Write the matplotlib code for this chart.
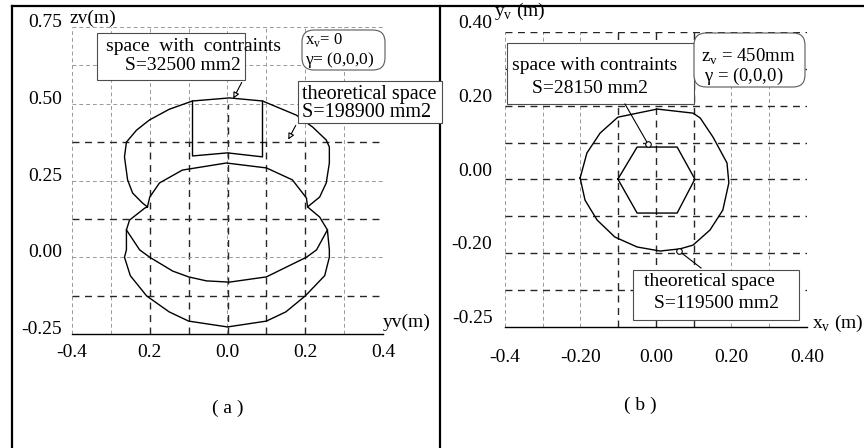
import matplotlib.pyplot as plt
from matplotlib.patches import Rectangle, FancyBboxPatch, FancyArrowPatch
from matplotlib.lines import Line2D
import numpy as np

plt.rcParams['font.family'] = ['Liberation Serif', 'DejaVu Serif']
plt.rcParams['mathtext.fontset'] = 'custom'
plt.rcParams['mathtext.rm'] = 'Liberation Serif'

# ---------------- panel (a): section x_v = 0 ----------------
a_xticks = [-0.4, -0.2, 0.0, 0.2, 0.4]
a_xticklabels = ['-0.4', '0.2', '0.0', '0.2', '0.4']
a_yticks = [0.75, 0.50, 0.25, 0.00, -0.25]
a_yticklabels = ['0.75', '0.50', '0.25', '0.00', '-0.25']

# outer contour of the theoretical space (y_v, z_v), starting at the left notch
a_outer_y = [-0.206, -0.219, -0.244, -0.257, -0.265, -0.260, -0.234, -0.201, -0.150, -0.090,
             0.005, 0.090, 0.177, 0.219, 0.254, 0.262, 0.262, 0.254, 0.237, 0.206,
             0.237, 0.257, 0.262, 0.262, 0.250, 0.200, 0.150, 0.100, 0.000,
             -0.100, -0.150, -0.208, -0.250, -0.265, -0.260, -0.260, -0.252, -0.213, -0.206]
a_outer_z = [0.164, 0.177, 0.209, 0.252, 0.327, 0.375, 0.414, 0.447, 0.482, 0.509,
             0.519, 0.509, 0.463, 0.424, 0.382, 0.359, 0.307, 0.242, 0.196, 0.164,
             0.131, 0.089, 0.024, 0.000, -0.060, -0.126, -0.178, -0.208, -0.227,
             -0.208, -0.178, -0.126, -0.060, 0.000, 0.024, 0.089, 0.121, 0.160, 0.164]

# inner upper arc between the two notches
a_inner_y = [-0.206, -0.200, -0.175, -0.116, -0.003, 0.100, 0.167, 0.203, 0.206]
a_inner_z = [0.164, 0.196, 0.242, 0.284, 0.307, 0.291, 0.252, 0.193, 0.164]

# lower inner arc of the lens
a_lens_y = [-0.260, -0.226, -0.200, -0.141, -0.100, -0.054, 0.005, 0.100, 0.203, 0.229, 0.257]
a_lens_z = [0.089, 0.024, 0.000, -0.045, -0.064, -0.077, -0.081, -0.064, 0.000, 0.024, 0.089]

# space with constraints (rectangle, top edge on the outer arc)
a_rect_y = [-0.090, -0.090, 0.000, 0.090, 0.090]
a_rect_z = [0.509, 0.330, 0.340, 0.327, 0.509]

# ---------------- panel (b): section z_v = 450 mm ----------------
b_xticks = [-0.4, -0.2, 0.0, 0.2, 0.4]
b_xticklabels = ['-0.4', '-0.20', '0.00', '0.20', '0.40']
b_yticks = [0.4, 0.2, 0.0, -0.2, -0.4]
b_yticklabels = ['0.40', '0.20', '0.00', '-0.20', '-0.25']

b_outer_x = [-0.201, -0.183, -0.148, -0.101, 0.003, 0.098, 0.117, 0.151, 0.188, 0.193,
             0.177, 0.143, 0.098, 0.064, 0.011, -0.050, -0.109, -0.156, -0.188, -0.201]
b_outer_y = [0.004, 0.072, 0.126, 0.169, 0.191, 0.180, 0.167, 0.115, 0.045, -0.009,
             -0.083, -0.137, -0.178, -0.188, -0.194, -0.183, -0.156, -0.110, -0.056, 0.004]

b_hex_x = [-0.101, -0.050, 0.056, 0.103, 0.056, -0.050, -0.101]
b_hex_y = [0.001, 0.088, 0.088, 0.001, -0.091, -0.091, 0.001]

W, H = 864, 448
fig = plt.figure(figsize=(W / 100, H / 100), dpi=100)


def fx(px):
    return px / W


def fy(py):
    return 1 - py / H


light = dict(color='0.6', lw=0.7, ls=(0, (4, 3)), zorder=0)
dark = dict(color='0.15', lw=1.0, ls=(0, (5, 4)), zorder=0)

# ---- axes (a)
ax = fig.add_axes([fx(72), fy(334), 311 / W, 307 / H])
ax.set_xlim(-0.4, 0.4)
ax.set_ylim(-0.25, 0.75)
for v in np.arange(-0.4, 0.41, 0.1):
    if abs(v) > 0.25 or abs(v) < 0.05:
        ax.axvline(v, **light)
    else:
        ax.axvline(v, ymax=0.63, **dark)
        ax.axvline(v, ymin=0.63, **light)
ax.axvline(0.0, ymax=0.75, **dark)
for h in np.arange(-0.125, 0.76, 0.125):
    ax.axhline(h, **(dark if h in (0.375, 0.125, -0.125) else light))
ax.plot(a_outer_y, a_outer_z, color='black', lw=1.0)
ax.plot(a_inner_y, a_inner_z, color='black', lw=1.0)
ax.plot(a_lens_y, a_lens_z, color='black', lw=1.0)
ax.plot(a_rect_y, a_rect_z, color='black', lw=1.0)
ax.set_xticks(a_xticks, a_xticklabels)
ax.set_yticks(a_yticks, a_yticklabels)
ax.tick_params(length=0, labelsize=14)
ax.tick_params(axis='x', pad=7)
ax.tick_params(axis='y', pad=7)
for lbl in ax.get_yticklabels():
    lbl.set_verticalalignment('baseline')
for s in ['top', 'right', 'left']:
    ax.spines[s].set_visible(False)
ax.spines['bottom'].set_linewidth(1.0)

# ---- axes (b)
bx = fig.add_axes([fx(505), fy(327), 302 / W, 295 / H])
bx.set_xlim(-0.4, 0.4)
bx.set_ylim(-0.4, 0.4)
for v in np.arange(-0.4, 0.41, 0.1):
    bx.axvline(v, **(dark if abs(v) < 0.15 else light))
for h in np.arange(-0.3, 0.41, 0.1):
    bx.axhline(h, **dark)
bx.plot(b_outer_x, b_outer_y, color='black', lw=1.0)
bx.plot(b_hex_x, b_hex_y, color='black', lw=1.0)
bx.set_xticks(b_xticks, b_xticklabels)
bx.set_yticks(b_yticks, b_yticklabels)
bx.tick_params(length=0, labelsize=14)
bx.tick_params(axis='x', pad=16)
bx.tick_params(axis='y', pad=9)
for lbl in bx.get_yticklabels():
    lbl.set_verticalalignment('bottom')
for s in ['top', 'right', 'left']:
    bx.spines[s].set_visible(False)
bx.spines['bottom'].set_linewidth(1.0)

# ---- frame lines of the two panels
for (x0, y0, x1, y1) in [(12, 6, 12, 448), (12, 6, 864, 6), (440, 6, 440, 448)]:
    fig.add_artist(Line2D([fx(x0), fx(x1)], [fy(y0), fy(y1)], color='black', lw=1.6,
                          transform=fig.transFigure, zorder=1))

T = fig.transFigure


def box(x0, y0, x1, y1, rounded=False):
    if rounded:
        p = FancyBboxPatch((fx(x0), fy(y1)), fx(x1) - fx(x0), fy(y0) - fy(y1),
                           boxstyle='round,pad=0,rounding_size=0.014', mutation_aspect=W / H,
                           transform=T, fc='white', ec='0.35', lw=0.8, zorder=5)
    else:
        p = Rectangle((fx(x0), fy(y1)), fx(x1) - fx(x0), fy(y0) - fy(y1), transform=T,
                      fc='white', ec='0.3', lw=0.8, zorder=5)
    fig.add_artist(p)


def txt(x, y, s, ha='center', size=14):
    fig.text(fx(x), fy(y), s, ha=ha, va='baseline', fontsize=size, zorder=6)


def arrow(x0, y0, x1, y1, circle=False):
    if circle:
        fig.add_artist(Line2D([fx(x0), fx(x1)], [fy(y0), fy(y1)], color='black', lw=0.8,
                              transform=T, zorder=6))
        fig.add_artist(Line2D([fx(x1)], [fy(y1)], marker='o', ms=4, mfc='white', mec='black',
                              mew=0.8, transform=T, zorder=7))
    else:
        fig.add_artist(FancyArrowPatch((fx(x0), fy(y0)), (fx(x1), fy(y1)), transform=T,
                                       arrowstyle='-|>', mutation_scale=9, lw=0.8,
                                       ec='black', fc='white', zorder=6))


# annotations panel (a)
box(97, 33, 245, 80)
txt(193, 51, 'space  with  contraints')
txt(183, 70, 'S=32500 mm2')
arrow(243, 80, 232, 101)
box(302, 30, 385, 70, rounded=True)
txt(305, 44, r'x$_\mathregular{v}$= 0', ha='left', size=12)
txt(305, 64, r'$\mathregular{\gamma}$= (0,0,0)', ha='left', size=12.5)
box(298, 81, 442, 123)
txt(302, 99, 'theoretical space', ha='left', size=14.5)
txt(302, 117, 'S=198900 mm2', ha='left', size=14.5)
arrow(297, 123, 287, 142)
txt(70, 23, 'zv(m)', ha='left')
txt(383, 327, 'yv(m)', ha='left')
txt(228, 413, '( a )')

# annotations panel (b)
box(507, 43, 694, 104)
txt(595, 70, 'space with contraints')
txt(590, 93, 'S=28150 mm2')
arrow(625, 104, 648, 144, circle=True)
box(694, 33, 805, 87, rounded=True)
txt(748, 62, r'z$_\mathregular{v}$ = 450mm', size=13.5)
txt(744, 81, r'$\mathregular{\gamma}$ = (0,0,0)', size=13.5)
box(633, 270, 799, 320)
txt(709, 286, 'theoretical space')
txt(717, 308, 'S=119500 mm2')
arrow(701, 268, 679, 251, circle=True)
txt(494, 16, r'y$_\mathregular{v}$ (m)', ha='left')
txt(812, 328, r'x$_\mathregular{v}$ (m)', ha='left')
txt(640, 410, '( b )')

fig.savefig('out.png', dpi=100)
